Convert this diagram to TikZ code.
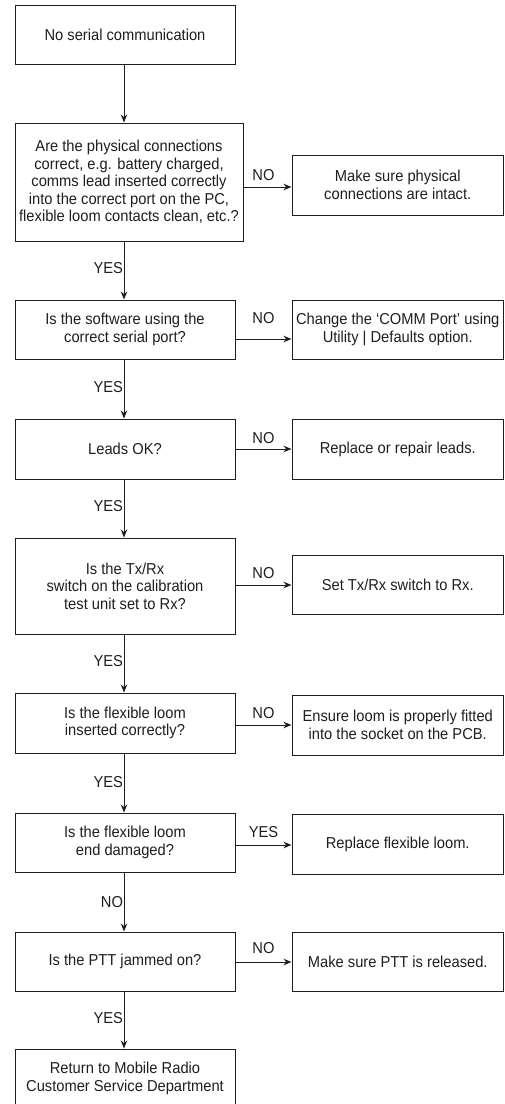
\documentclass[tikz,border=0pt]{standalone}
\usepackage{fontspec}
\setmainfont[FakeStretch=0.93]{Liberation Sans}
\usetikzlibrary{arrows.meta}
\definecolor{ink}{HTML}{1E1E1E}
\begin{document}
\begin{tikzpicture}[x=1pt,y=-1pt,
  box/.style={draw=ink, line width=1pt, inner sep=0pt, align=center, text=ink,
              font=\fontsize{15.8}{17.5}\selectfont},
  lbl/.style={text=ink, font=\fontsize{15.8}{17.5}\selectfont, inner sep=0pt},
  arr/.style={draw=ink, line width=1pt, -{Stealth[length=8pt,width=6.5pt]}}]
\useasboundingbox (0,0) rectangle (504,1104);
% left column
\node[box, minimum width=220pt, minimum height=59pt] (b1) at (125,34.5) {No serial communication};
\node[box, minimum width=228pt, minimum height=118pt] (b2) at (129,182) {Are the physical connections\\correct, e.g. battery charged,\\comms lead inserted correctly\\into the correct port on the PC,\\flexible loom contacts clean, etc.?};
\node[box, minimum width=220pt, minimum height=59pt] (b3) at (125,329.5) {Is the software using the\\correct serial port?};
\node[box, minimum width=220pt, minimum height=60pt] (b4) at (125,449) {Leads OK?};
\node[box, minimum width=220pt, minimum height=96pt] (b5) at (125,586) {Is the Tx/Rx\\switch on the calibration\\test unit set to Rx?};
\node[box, minimum width=220pt, minimum height=60pt] (b6) at (125,723) {Is the flexible loom\\inserted correctly?};
\node[box, minimum width=220pt, minimum height=59pt] (b7) at (125,842.5) {Is the flexible loom\\end damaged?};
\node[box, minimum width=220pt, minimum height=59pt] (b8) at (125,961.5) {Is the PTT jammed on?};
\node[box, minimum width=220pt, minimum height=59pt] (b9) at (125,1078.5) {Return to Mobile Radio\\Customer Service Department};
% right column
\node[box, minimum width=211.5pt, minimum height=60pt] (r1) at (397.75,185) {Make sure physical\\connections are intact.};
\node[box, minimum width=211.5pt, minimum height=59pt] (r2) at (397.75,329.5) {Change the ‘COMM Port’ using\\Utility | Defaults option.};
\node[box, minimum width=211.5pt, minimum height=60pt] (r3) at (397.75,449) {Replace or repair leads.};
\node[box, minimum width=211.5pt, minimum height=59pt] (r4) at (397.75,584.5) {Set Tx/Rx switch to Rx.};
\node[box, minimum width=211.5pt, minimum height=60pt] (r5) at (397.75,725) {Ensure loom is properly fitted\\into the socket on the PCB.};
\node[box, minimum width=211.5pt, minimum height=60pt] (r6) at (397.75,844) {Replace flexible loom.};
\node[box, minimum width=211.5pt, minimum height=59pt] (r7) at (397.75,961.5) {Make sure PTT is released.};
% helper coordinates
\coordinate (cx) at (124,0);
\coordinate (y1) at (0,187);
\coordinate (y2) at (0,339);
\coordinate (y3) at (0,449);
\coordinate (y4) at (0,585);
\coordinate (y5) at (0,725);
\coordinate (y6) at (0,845);
\coordinate (y7) at (0,962);
% vertical connectors
\draw[arr] (b1.south -| cx) -- (b2.north -| cx);
\draw[arr] (b2.south -| cx) -- node[lbl, midway, left=0.5pt, yshift=2pt] {YES} (b3.north -| cx);
\draw[arr] (b3.south -| cx) -- node[lbl, midway, left=0.5pt, yshift=2pt] {YES} (b4.north -| cx);
\draw[arr] (b4.south -| cx) -- node[lbl, midway, left=0.5pt, yshift=2pt] {YES} (b5.north -| cx);
\draw[arr] (b5.south -| cx) -- node[lbl, midway, left=0.5pt, yshift=2pt] {YES} (b6.north -| cx);
\draw[arr] (b6.south -| cx) -- node[lbl, midway, left=0.5pt, yshift=1pt] {YES} (b7.north -| cx);
\draw[arr] (b7.south -| cx) -- node[lbl, midway, left=0.5pt] {NO} (b8.north -| cx);
\draw[arr] (b8.south -| cx) -- node[lbl, midway, left=0.5pt, yshift=2pt] {YES} (b9.north -| cx);
% horizontal connectors
\draw[arr] (b2.east |- y1) -- node[lbl, midway, anchor=base, xshift=-4pt, yshift=7pt] {NO} (r1.west |- y1);
\draw[arr] (b3.east |- y2) -- node[lbl, midway, anchor=base, yshift=16pt] {NO} (r2.west |- y2);
\draw[arr] (b4.east |- y3) -- node[lbl, midway, anchor=base, yshift=6pt] {NO} (r3.west |- y3);
\draw[arr] (b5.east |- y4) -- node[lbl, midway, anchor=base, yshift=7pt] {NO} (r4.west |- y4);
\draw[arr] (b6.east |- y5) -- node[lbl, midway, anchor=base, yshift=7pt] {NO} (r5.west |- y5);
\draw[arr] (b7.east |- y6) -- node[lbl, midway, anchor=base, yshift=8pt] {YES} (r6.west |- y6);
\draw[arr] (b8.east |- y7) -- node[lbl, midway, anchor=base, yshift=9pt] {NO} (r7.west |- y7);
\end{tikzpicture}
\end{document}
